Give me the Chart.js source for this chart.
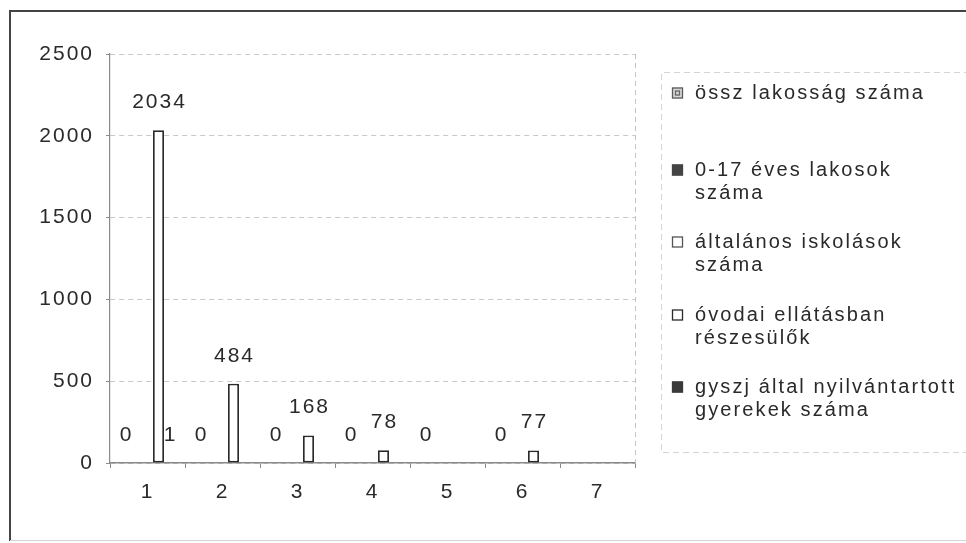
<!DOCTYPE html>
<html>
<head>
<meta charset="utf-8">
<script src="https://cdn.jsdelivr.net/npm/chart.js@4.4.1/dist/chart.umd.min.js"></script>
<style>
html,body{margin:0;padding:0;background:#fff;overflow:hidden}
canvas{display:block}
</style>
</head>
<body>
<canvas id="c" width="966" height="543"></canvas>
<script>
// ---- data ----
const categories = ['1', '2', '3', '4', '5', '6', '7'];
const seriesNames = [
  'össz lakosság száma',
  '0-17 éves lakosok száma',
  'általános iskolások száma',
  'óvodai ellátásban részesülők',
  'gyszj által nyilvántartott gyerekek száma'
];
const legendLines = [
  ['össz lakosság száma'],
  ['0-17 éves lakosok', 'száma'],
  ['általános iskolások', 'száma'],
  ['óvodai ellátásban', 'részesülők'],
  ['gyszj által nyilvántartott', 'gyerekek száma']
];
const osszLakossag      = [0, 0, 0, 0, 0, 0, null];
const lakosok017        = [null, null, null, null, null, null, null];
const altalanosIskolas  = [null, null, null, null, null, null, null];
const ovodaiEllatas     = [2034, 484, 168, 78, null, 77, null];
const gyszjGyerekek     = [1, null, null, null, null, null, null];
const yTickValues       = [0, 500, 1000, 1500, 2000, 2500];

// ---- style ----
const FONT = '"Liberation Sans", Arimo, Arial, sans-serif';
const FSIZE = 21;
const LS = 2.0;
const LEG_LS = 2.1;
const TEXT = '#2a2a2a';
const legendY = [93, 170, 242, 315, 387];
const LINE_H = 23.5;

const seriesStyle = [
  {bg: '#d8d8d8', border: '#5a5a5a', pattern: true},
  {bg: '#444444', border: '#444444'},
  {bg: '#ffffff', border: '#555555'},
  {bg: '#ffffff', border: '#2a2a2a'},
  {bg: '#3a3a3a', border: '#3a3a3a'}
];
const seriesData = [osszLakossag, lakosok017, altalanosIskolas, ovodaiEllatas, gyszjGyerekek];

const datasets = seriesNames.map((name, i) => ({
  label: name,
  data: seriesData[i],
  backgroundColor: seriesStyle[i].bg,
  borderColor: seriesStyle[i].border,
  borderWidth: 1.8,
  borderSkipped: false,
  categoryPercentage: 0.7333,
  barPercentage: 1.0
}));

function setLS(ctx, v) { try { ctx.letterSpacing = (v === undefined ? LS : v) + 'px'; } catch (e) {} }

const decor = {
  id: 'decor',
  beforeUpdate(chart) { setLS(chart.ctx); },
  beforeDraw(chart) {
    const ctx = chart.ctx;
    ctx.save();
    ctx.fillStyle = '#ffffff';
    ctx.fillRect(0, 0, chart.width, chart.height);
    // outer frame
    ctx.strokeStyle = '#444444';
    ctx.lineWidth = 2;
    ctx.beginPath();
    ctx.moveTo(10, 541); ctx.lineTo(10, 11); ctx.lineTo(980, 11);
    ctx.stroke();
    ctx.strokeStyle = '#d4d4d4';
    ctx.lineWidth = 1;
    ctx.beginPath();
    ctx.moveTo(10, 540.5); ctx.lineTo(980, 540.5);
    ctx.stroke();
    // legend box
    ctx.strokeStyle = '#d4d4d4';
    ctx.setLineDash([6, 4]);
    ctx.beginPath();
    ctx.moveTo(990, 72.5); ctx.lineTo(661.5, 72.5); ctx.lineTo(661.5, 452.5); ctx.lineTo(990, 452.5);
    ctx.stroke();
    ctx.restore();
    setLS(ctx);
  },
  afterDraw(chart) {
    const ctx = chart.ctx;
    const a = chart.chartArea;
    ctx.save();
    // right dashed border of the plot area
    ctx.strokeStyle = '#c4c4c4';
    ctx.lineWidth = 1;
    ctx.setLineDash([5, 4]);
    ctx.beginPath();
    ctx.moveTo(Math.round(a.right) + 0.5, a.top);
    ctx.lineTo(Math.round(a.right) + 0.5, a.bottom);
    ctx.stroke();
    ctx.setLineDash([]);
    // legend
    setLS(ctx, LEG_LS);
    ctx.font = '20px ' + FONT;
    ctx.textAlign = 'left';
    ctx.textBaseline = 'middle';
    chart.data.datasets.forEach((ds, i) => {
      const y = legendY[i];
      const mx = 672, ms = 11;
      ctx.fillStyle = ds.backgroundColor;
      ctx.fillRect(mx, y - ms / 2, ms, ms);
      ctx.strokeStyle = ds.borderColor;
      ctx.lineWidth = 1.3;
      ctx.strokeRect(mx + 0.5, y - ms / 2 + 0.5, ms - 1, ms - 1);
      if (seriesStyle[i].pattern) {
        ctx.strokeStyle = '#666';
        ctx.strokeRect(mx + 3.5, y - ms / 2 + 3.5, ms - 7, ms - 7);
      }
      ctx.fillStyle = TEXT;
      legendLines[i].forEach((line, k) => {
        ctx.fillText(line, 695, y + k * LINE_H);
      });
    });
    ctx.restore();
  }
};

const valueLabels = {
  id: 'valueLabels',
  afterDatasetsDraw(chart) {
    const ctx = chart.ctx;
    ctx.save();
    setLS(ctx);
    ctx.font = FSIZE + 'px ' + FONT;
    ctx.fillStyle = TEXT;
    ctx.textAlign = 'center';
    ctx.textBaseline = 'middle';
    chart.data.datasets.forEach((ds, i) => {
      const meta = chart.getDatasetMeta(i);
      meta.data.forEach((el, j) => {
        const v = ds.data[j];
        if (v === null || v === undefined) return;
        ctx.fillText(String(v), el.x + LS / 2, el.y - 28);
      });
    });
    ctx.restore();
  }
};

new Chart(document.getElementById('c'), {
  type: 'bar',
  data: { labels: categories, datasets },
  options: {
    responsive: false,
    animation: false,
    devicePixelRatio: 1,
    layout: { padding: { left: 0, top: 54, right: 331, bottom: 0 } },
    plugins: { legend: { display: false }, tooltip: { enabled: false } },
    scales: {
      x: {
        offset: true,
        grid: { display: true, drawOnChartArea: false, drawTicks: true, tickLength: 5, color: '#8a8a8a', offset: true },
        border: { display: true, color: '#8a8a8a', width: 1.5 },
        ticks: { color: TEXT, font: { family: FONT, size: FSIZE }, padding: 12, maxRotation: 0 },
        afterFit(s) { s.height = 80; }
      },
      y: {
        min: 0, max: 2500,
        afterBuildTicks(s) { s.ticks = yTickValues.map(v => ({ value: v })); },
        grid: { color: '#c8c8c8', tickColor: '#8a8a8a', tickLength: 4, lineWidth: 1 },
        border: { display: true, color: '#8a8a8a', width: 1.2, dash: [5, 4] },
        ticks: { color: TEXT, font: { family: FONT, size: FSIZE }, padding: 12, callback: (v) => String(v) },
        afterFit(s) { s.width = 110; }
      }
    }
  },
  plugins: [decor, valueLabels]
});
</script>
</body>
</html>
